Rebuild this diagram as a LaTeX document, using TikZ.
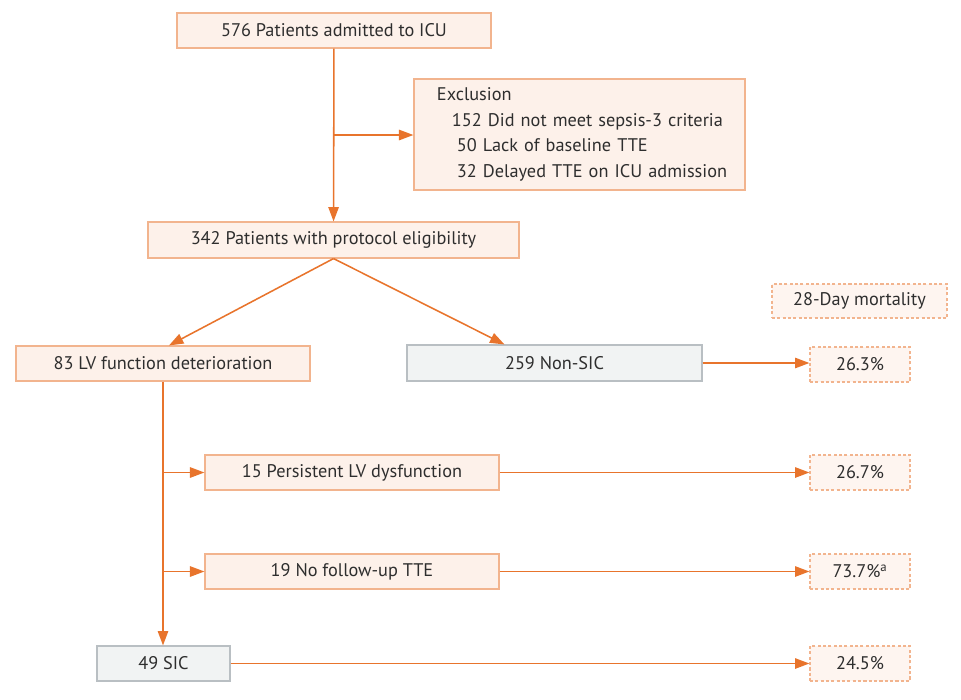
\documentclass[tikz,border=0pt]{standalone}
\usepackage{fontspec}
\setmainfont{PT Sans}
\usepackage{tikz}
\usetikzlibrary{arrows.meta, calc, positioning}
\definecolor{flowline}{HTML}{E8742C}
\definecolor{peachfill}{HTML}{FDF1EA}
\definecolor{peachdraw}{HTML}{F2B48E}
\definecolor{grayfill}{HTML}{F1F3F3}
\definecolor{graydraw}{HTML}{B9BFC3}
\definecolor{txt}{HTML}{2E2E2E}
\tikzset{
  box/.style     ={draw=peachdraw, fill=peachfill, line width=0.8pt, inner sep=0pt, text=txt, font=\fontsize{13}{18.2}\selectfont},
  graybox/.style ={draw=graydraw, fill=grayfill, line width=0.8pt, inner sep=0pt, text=txt, font=\fontsize{13}{18.2}\selectfont},
  mort/.style    ={draw=peachdraw, fill=peachfill!70, line width=0.8pt, dash pattern=on 2.2pt off 1.6pt, inner sep=0pt, text=txt, font=\fontsize{13}{18.2}\selectfont, minimum width=2.5cm, minimum height=0.875cm},
  flow/.style    ={-{Triangle[length=0.36cm, width=0.26cm]}, line width=1.1pt, flowline},
}
\begin{document}
\begin{tikzpicture}[x=0.025cm, y=-0.025cm]
  \useasboundingbox (0,0) rectangle (961,699);

  % --- top ---
  \node[box, minimum width=7.85cm, minimum height=0.875cm] (icu) at (334,30.5) {576 Patients admitted to ICU};
  \node[box, minimum width=8.275cm, minimum height=2.775cm, text width=7.6cm, inner xsep=0.3375cm, align=left] (excl) at (579.5,134.5)
    {\hspace*{0.2375cm}Exclusion\\
     \hspace*{0.6125cm}152 Did not meet sepsis-3 criteria\\
     \hspace*{0.7375cm}50 Lack of baseline TTE\\
     \hspace*{0.7375cm}32 Delayed TTE on ICU admission};
  \node[box, minimum width=9.275cm, minimum height=0.9cm] (elig) at (333.5,240) {342 Patients with protocol eligibility};
  \coordinate (j1) at (334,135);
  \draw[flow] (icu) -- (elig);
  \draw[flow] (j1) -- (j1 -| excl.west);

  % --- split ---
  \node[box, minimum width=7.35cm, minimum height=0.875cm] (lvdet) at (163,363.5) {83 LV function deterioration};
  \node[graybox, minimum width=7.375cm, minimum height=0.9cm] (nonsic) at (554.5,363) {259 Non-SIC};
  \draw[flow] (elig.south) -- ([xshift=0.15cm]lvdet.north);
  \draw[flow] (elig.south) -- ([xshift=-1.25cm]nonsic.north);

  % --- LV branch ---
  \node[box, minimum width=7.35cm, minimum height=0.875cm] (persist) at (352,472.5) {15 Persistent LV dysfunction};
  \node[box, minimum width=7.35cm, minimum height=0.875cm] (nofu) at (352,571.5) {19 No follow-up TTE};
  \node[graybox, minimum width=3.325cm, minimum height=0.875cm] (sic) at (163.5,663.5) {49 SIC};
  \coordinate (j2) at (163,472.5);
  \coordinate (j3) at (163,571.5);
  \draw[flow] (lvdet.south -| j2) -- (sic.north -| j2);
  \draw[flow] (j2) -- (persist.west);
  \draw[flow] (j3) -- (nofu.west);

  % --- 28-day mortality ---
  \node[mort, minimum width=4.375cm, minimum height=0.85cm] (mhead) at (859.5,301) {28-Day mortality};
  \node[mort] (m1) at (860,364.5) {26.3\%};
  \node[mort] (m2) at (860,472.5) {26.7\%};
  \node[mort] (m3) at (860,571.5) {73.7\%\textsuperscript{a}};
  \node[mort] (m4) at (860,663.5) {24.5\%};
  \draw[flow] (nonsic.east) -- (nonsic.east -| m1.west);
  \draw[flow] (persist) -- (m2);
  \draw[flow] (nofu) -- (m3);
  \draw[flow] (sic) -- (m4);
\end{tikzpicture}
\end{document}
